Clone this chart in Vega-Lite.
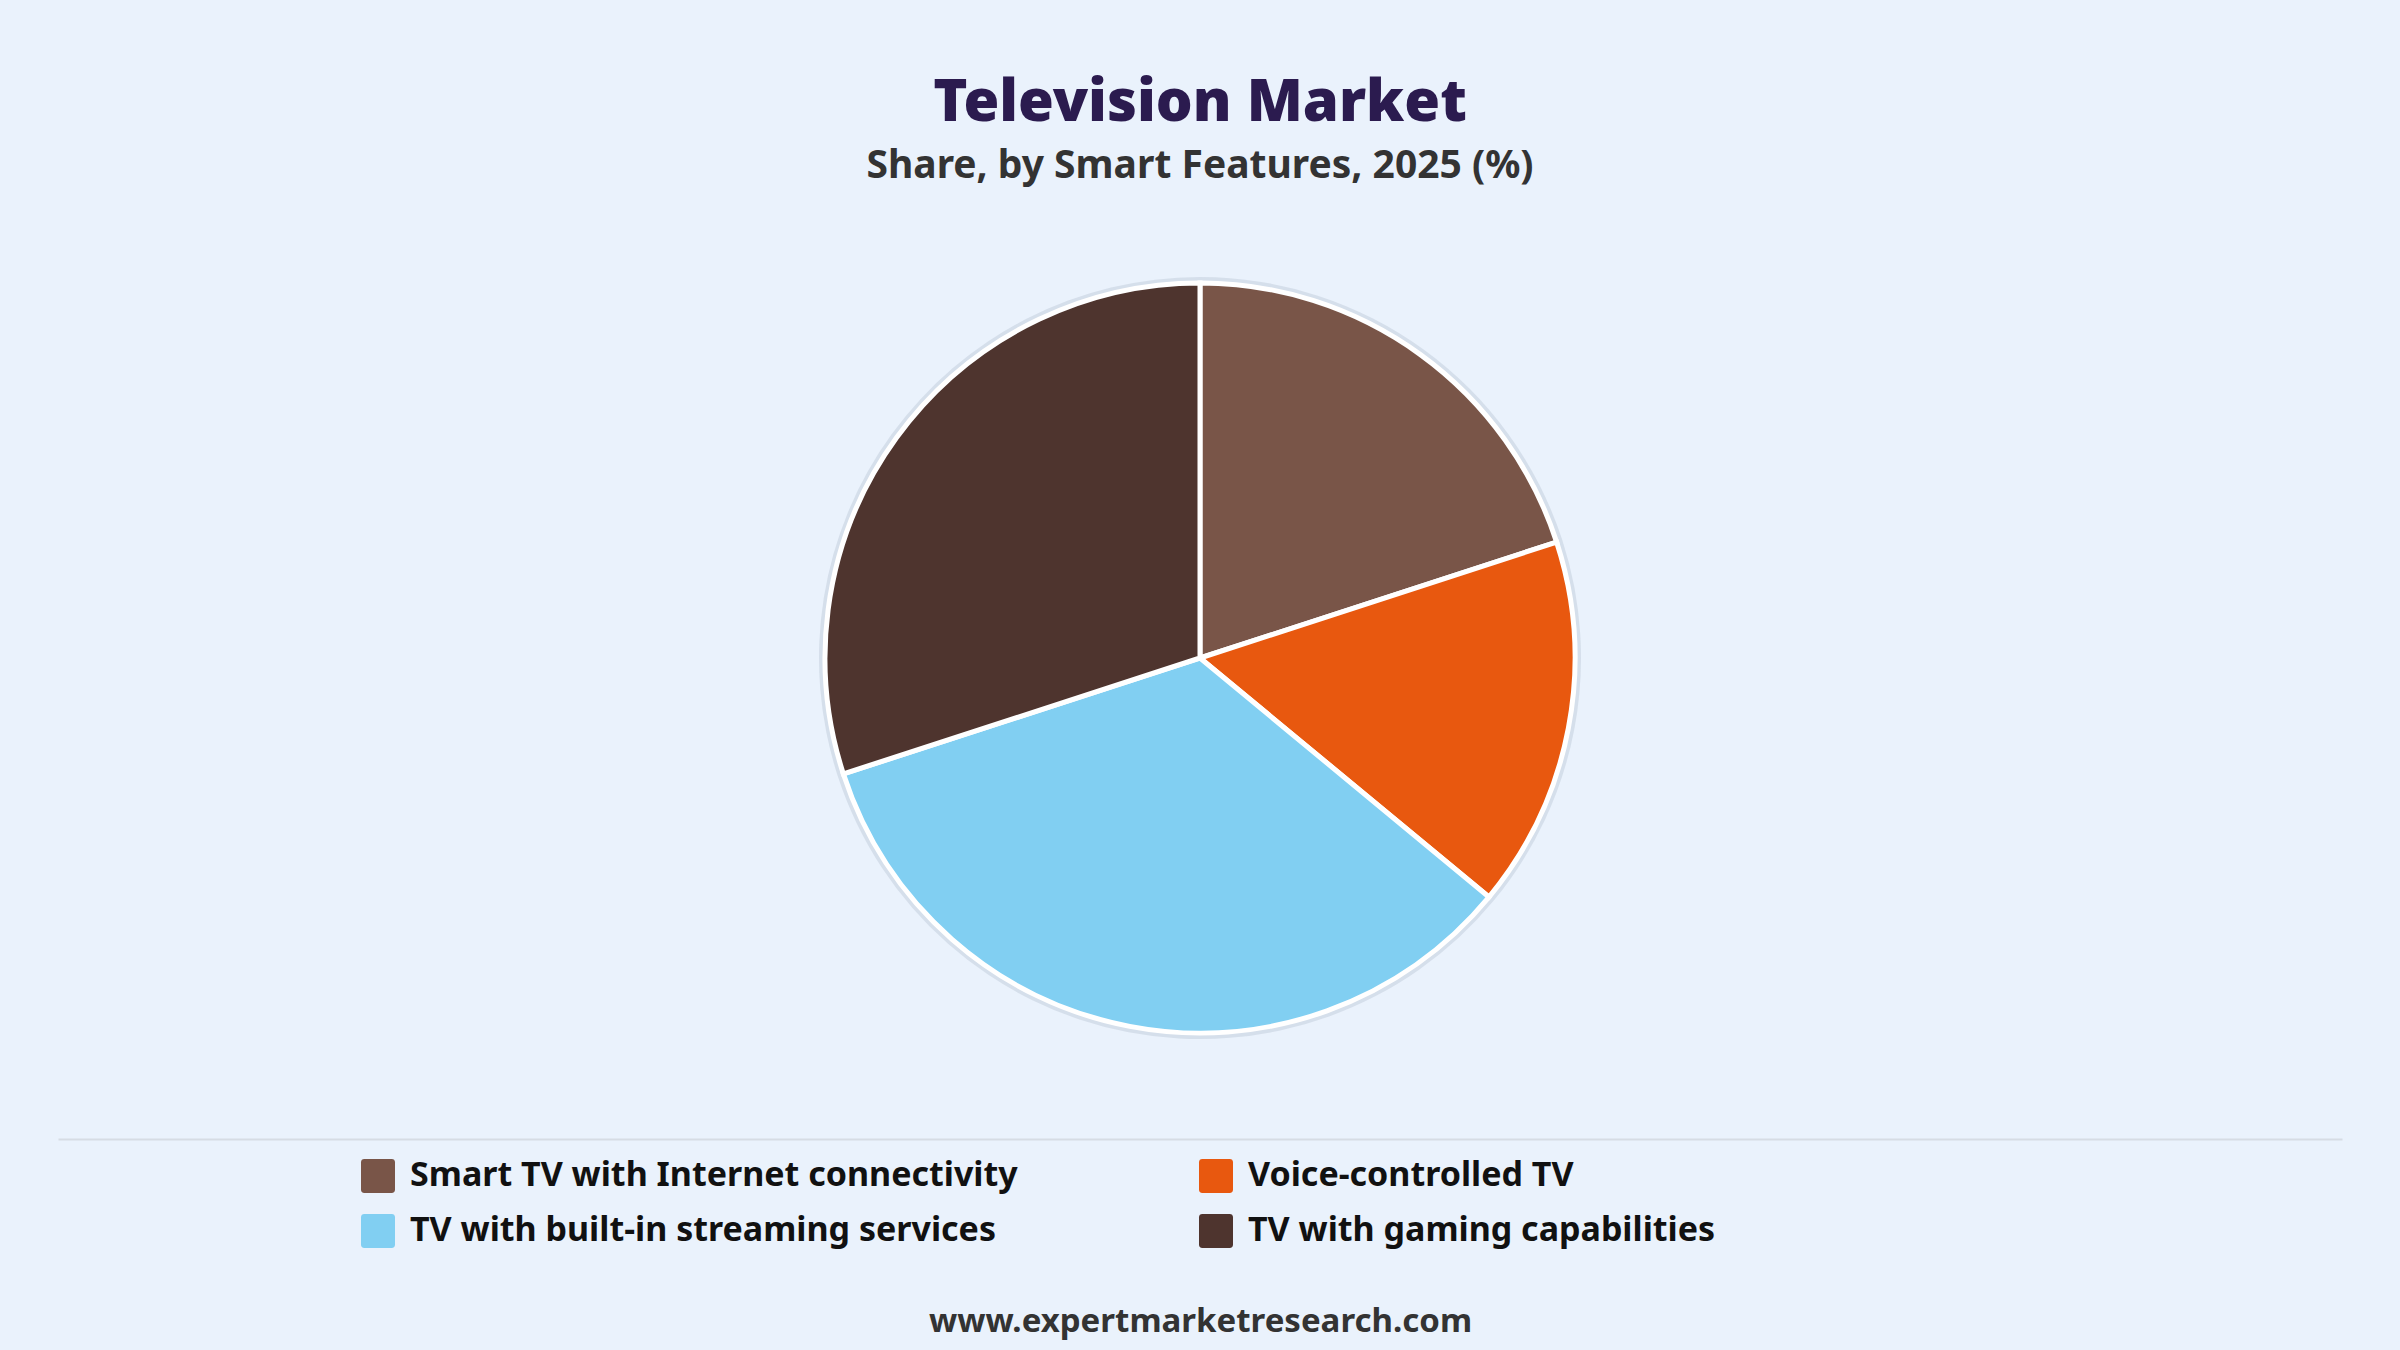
{
  "$schema": "https://vega.github.io/schema/vega-lite/v6.json",
  "width": 2284,
  "height": 962,
  "autosize": {"type": "none"},
  "padding": {"left": 58, "right": 58, "top": 177, "bottom": 211},
  "background": "#EAF2FC",
  "title": {
    "text": "Television Market",
    "subtitle": "Share, by Smart Features, 2025 (%)",
    "anchor": "middle",
    "font": "Noto Sans",
    "fontSize": 58,
    "fontWeight": 900,
    "color": "#2B1B4F",
    "subtitleFont": "Noto Sans",
    "subtitleFontSize": 39,
    "subtitleFontWeight": "bold",
    "subtitleColor": "#333333",
    "subtitlePadding": 14,
    "offset": -9
  },
  "data": {
    "values": [
      {"feature": "Smart TV with Internet connectivity", "share": 20},
      {"feature": "Voice-controlled TV", "share": 16},
      {"feature": "TV with built-in streaming services", "share": 34},
      {"feature": "TV with gaming capabilities", "share": 30}
    ]
  },
  "transform": [{"window": [{"op": "row_number", "as": "rank"}]}],
  "encoding": {
    "theta": {"field": "share", "type": "quantitative", "stack": true},
    "order": {"field": "rank", "type": "quantitative"},
    "x": {
      "datum": 0,
      "type": "quantitative",
      "scale": {"domain": [-1, 1]},
      "axis": {
        "domain": true,
        "domainColor": "#D6DCE4",
        "domainWidth": 2,
        "ticks": false,
        "labels": false,
        "grid": false,
        "title": "www.expertmarketresearch.com",
        "titleFont": "Noto Sans",
        "titleFontSize": 33,
        "titleFontWeight": "bold",
        "titleColor": "#333333",
        "titlePadding": 166
      }
    }
  },
  "layer": [
    {
      "mark": {"type": "arc", "outerRadius": 381, "fill": "#A7B2C2", "opacity": 0.3, "strokeWidth": 0}
    },
    {
      "mark": {"type": "arc", "outerRadius": 375, "stroke": "#FFFFFF", "strokeWidth": 5},
      "encoding": {
        "color": {
          "field": "feature",
          "type": "nominal",
          "sort": null,
          "scale": {
            "domain": [
              "Smart TV with Internet connectivity",
              "Voice-controlled TV",
              "TV with built-in streaming services",
              "TV with gaming capabilities"
            ],
            "range": ["#795548", "#E8580F", "#81CFF2", "#4E342E"]
          },
          "legend": {
            "title": null,
            "orient": "none",
            "direction": "horizontal",
            "legendX": 303,
            "legendY": 982,
            "columns": 2,
            "columnPadding": 181,
            "rowPadding": 21,
            "symbolType": "M-0.8,-1H0.8Q1,-1 1,-0.8V0.8Q1,1 0.8,1H-0.8Q-1,1 -1,0.8V-0.8Q-1,-1 -0.8,-1Z",
            "symbolSize": 1156,
            "symbolStrokeWidth": 0,
            "symbolOpacity": 1,
            "labelFont": "Noto Sans",
            "labelFontSize": 34,
            "labelFontWeight": "bold",
            "labelColor": "#111111",
            "labelOffset": 15,
            "labelLimit": 1000
          }
        }
      }
    }
  ],
  "config": {"view": {"stroke": null}}
}
